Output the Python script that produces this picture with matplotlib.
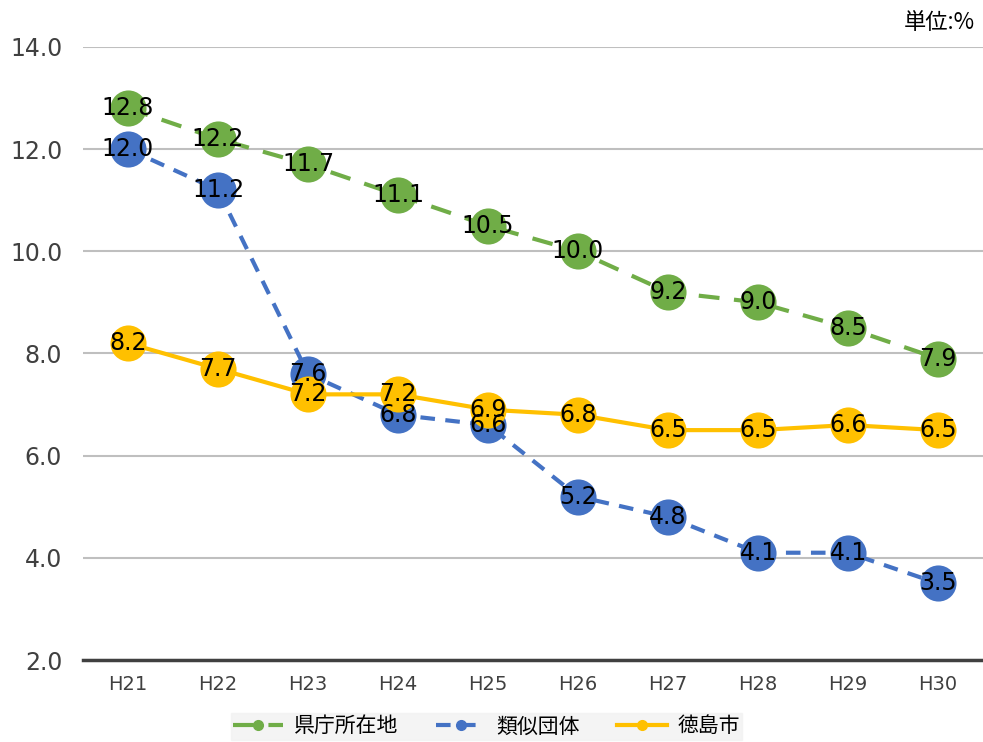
import matplotlib.pyplot as plt
from matplotlib.lines import Line2D

plt.rcParams['font.family'] = ['DejaVu Sans', 'Noto Sans CJK JP']

years = ['H21', 'H22', 'H23', 'H24', 'H25', 'H26', 'H27', 'H28', 'H29', 'H30']
kencho = [12.8, 12.2, 11.7, 11.1, 10.5, 10.0, 9.2, 9.0, 8.5, 7.9]
ruiji = [12.0, 11.2, 7.6, 6.8, 6.6, 5.2, 4.8, 4.1, 4.1, 3.5]
tokushima = [8.2, 7.7, 7.2, 7.2, 6.9, 6.8, 6.5, 6.5, 6.6, 6.5]

names = ['県庁所在地', '類似団体', '徳島市']
colors = ['#70AD47', '#4472C4', '#FFC000']
styles = [(0, (5, 3.5)), (0, (3.5, 2.5)), '-']

fig = plt.figure(figsize=(9.83, 7.42), dpi=100)
ax = fig.add_axes([0.0845, 0.1105, 0.9155, 0.8262])

x = list(range(len(years)))
for vals, c, ls in zip([kencho, ruiji, tokushima], colors, styles):
    ax.plot(x, vals, color=c, lw=3, ls=ls, marker='o', markersize=26,
            markeredgewidth=0)
    for xi, v in zip(x, vals):
        ax.text(xi, v, f'{v:.1f}', ha='center', va='center', fontsize=17,
                color='black')

ax.set_xlim(-0.5, 9.5)
ax.set_ylim(2, 14)
ax.set_yticks([2, 4, 6, 8, 10, 12, 14])
ax.set_yticklabels([f'{t:.1f}' for t in [2, 4, 6, 8, 10, 12, 14]],
                   fontsize=17, color='#404040')
ax.set_xticks(x)
ax.set_xticklabels(years, fontsize=14, color='#404040')
ax.tick_params(length=0, pad=11)
ax.tick_params(axis='y', pad=15)
ax.grid(axis='y', color='#BFBFBF', lw=1.5)
ax.set_axisbelow(True)
for s in ['top', 'right', 'left']:
    ax.spines[s].set_visible(False)
ax.spines['bottom'].set_color('#404040')
ax.spines['bottom'].set_linewidth(2.5)

fig.text(0.992, 0.97, '単位:%', ha='right', va='center', fontsize=16,
         family=['Noto Sans CJK JP', 'DejaVu Sans'])

handles = [Line2D([], [], color=c, lw=3, ls=ls, marker='o', markersize=7)
           for c, ls in zip(colors, styles)]
leg = fig.legend(handles, names, loc='center', bbox_to_anchor=(0.495, 0.021),
                 ncol=3, frameon=True, fancybox=False,
                 prop={'family': 'Noto Sans CJK JP', 'size': 15},
                 handlelength=2.4, columnspacing=1.8, borderpad=0.1,
                 handletextpad=0.5, borderaxespad=0)
leg.get_frame().set_facecolor('#F2F2F2')
leg.get_frame().set_edgecolor('#F2F2F2')

fig.savefig('out.png', dpi=100)
